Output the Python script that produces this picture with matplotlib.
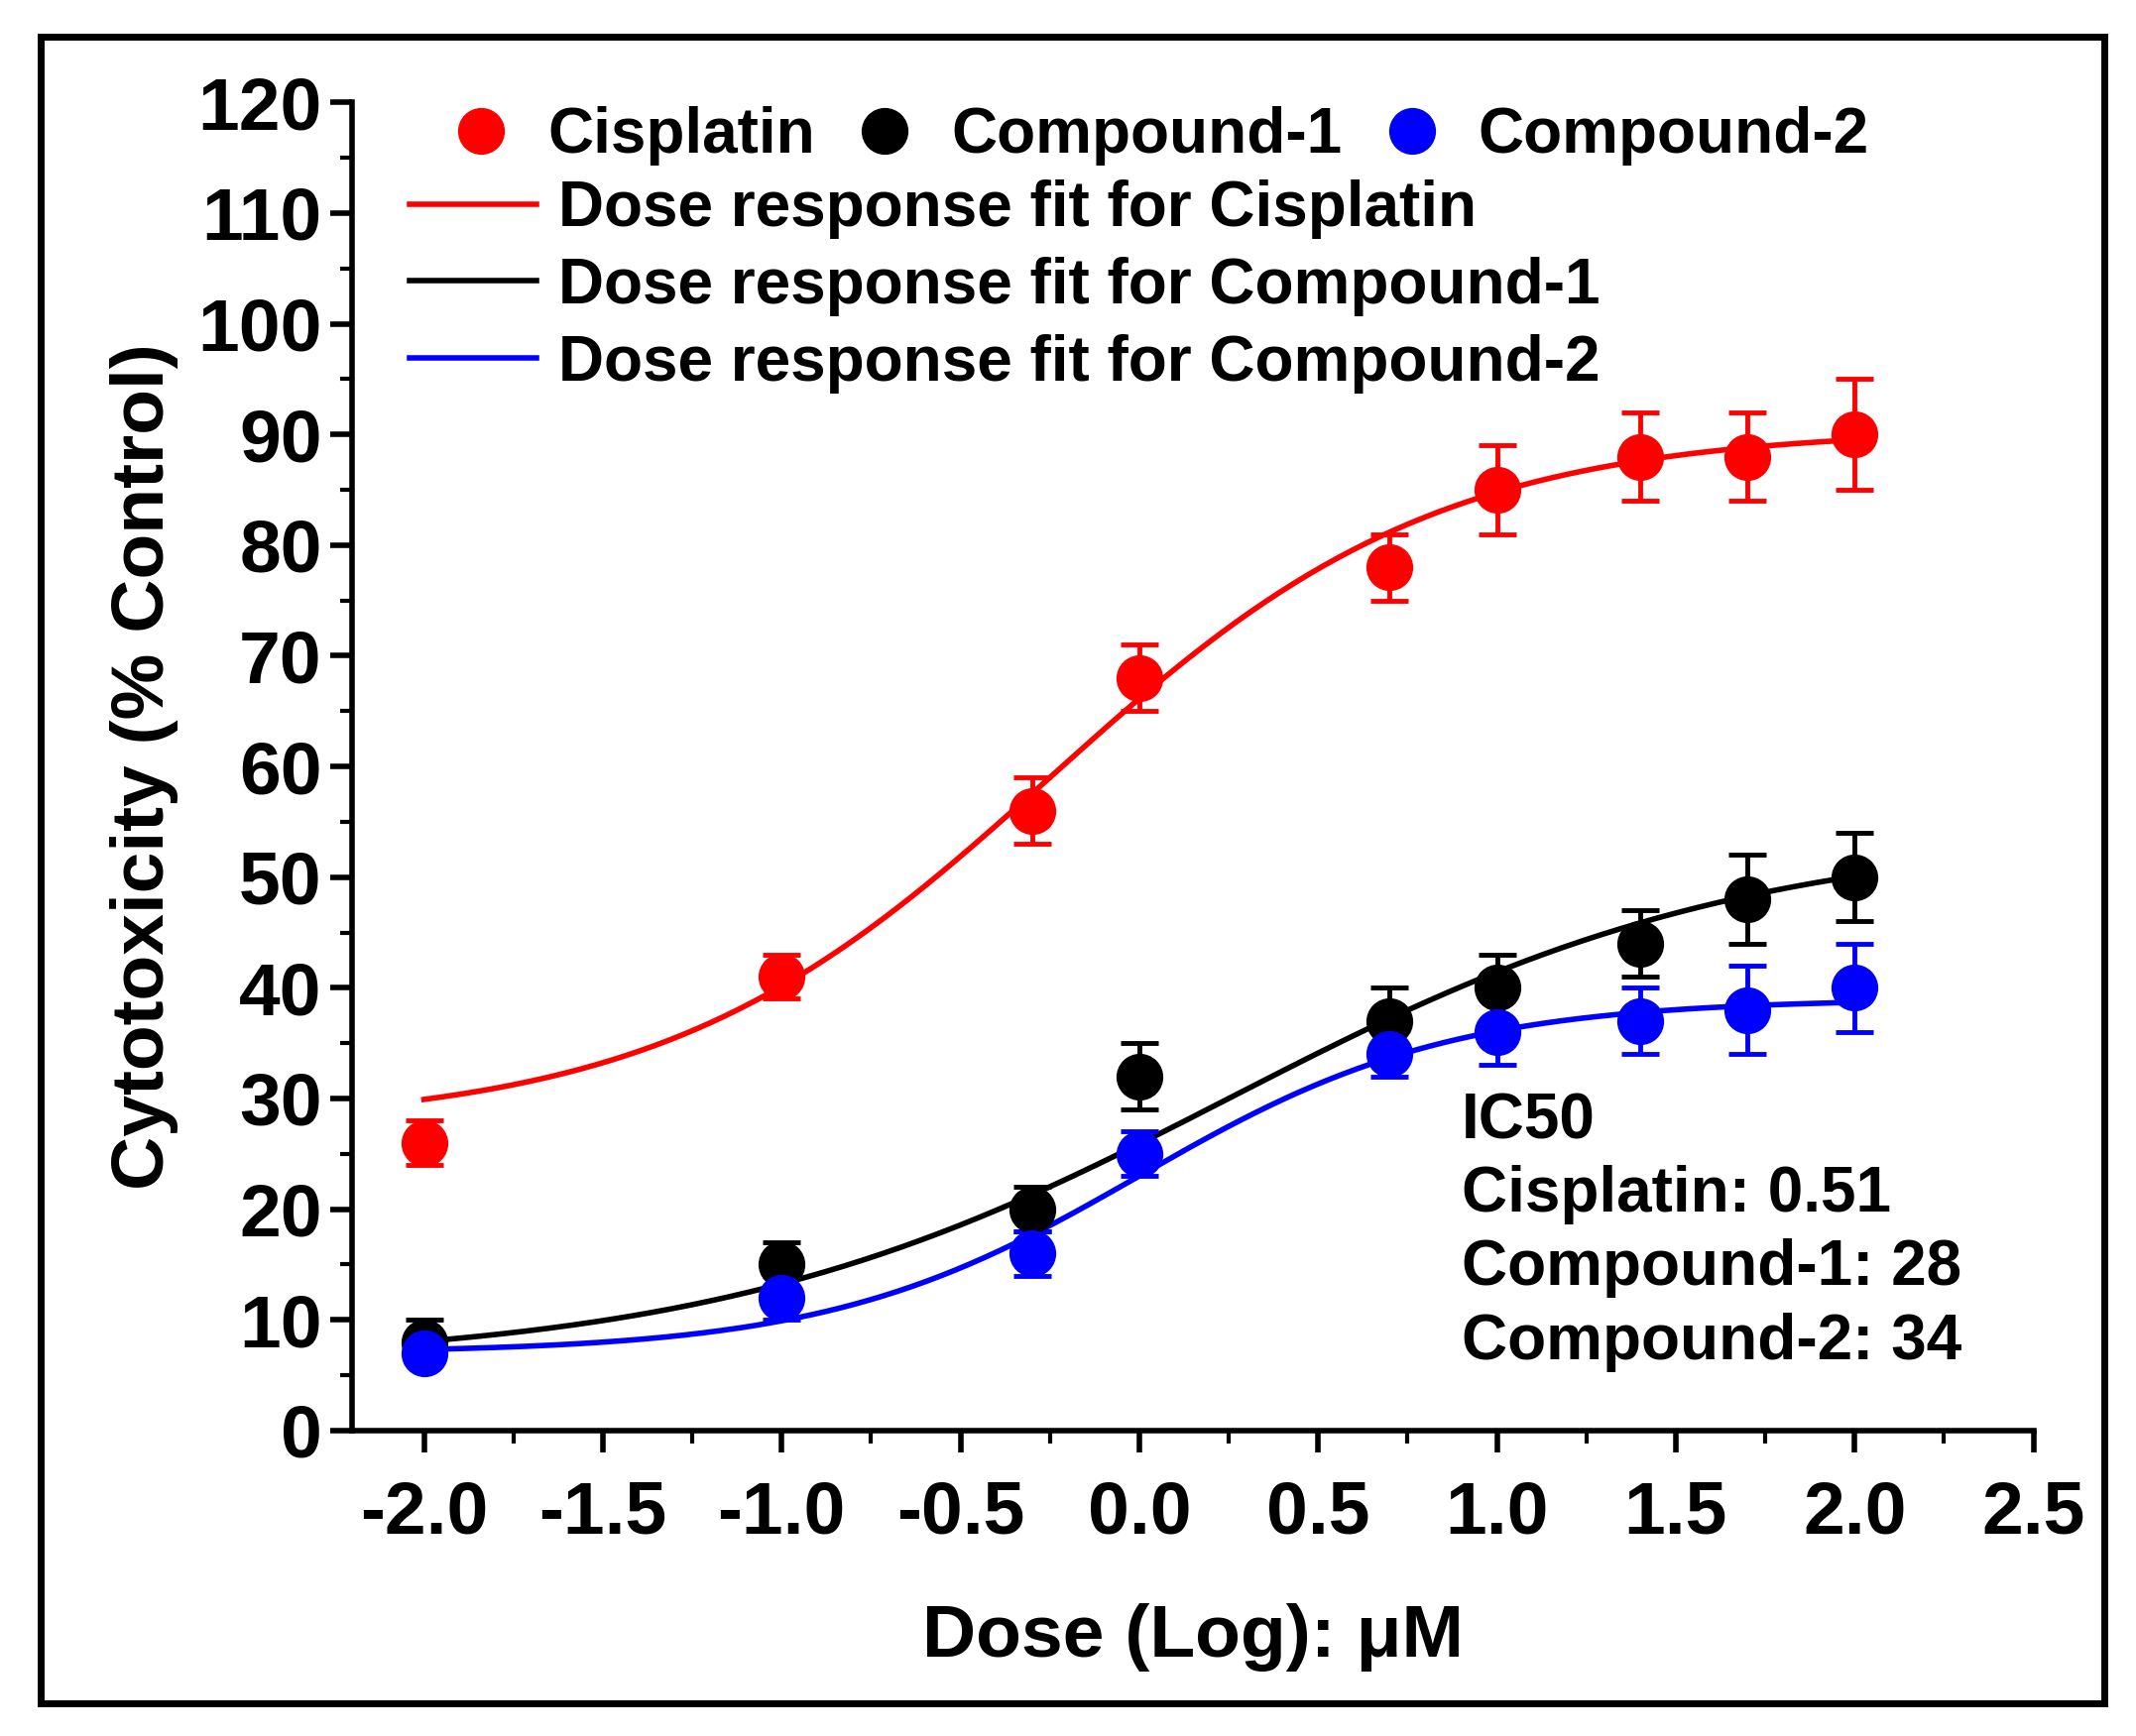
import numpy as np
import matplotlib
matplotlib.use("Agg")
import matplotlib.pyplot as plt
from matplotlib.patches import Rectangle
from matplotlib.lines import Line2D

plt.rcParams['font.family'] = 'Liberation Sans'
plt.rcParams['font.weight'] = 'bold'

dose = [-2.0, -1.0, -0.3, 0.0, 0.7, 1.0, 1.4, 1.7, 2.0]
cis = [26, 41, 56, 68, 78, 85, 88, 88, 90]
cis_err = [2, 2, 3, 3, 3, 4, 4, 4, 5]
c1 = [8, 15, 20, 32, 37, 40, 44, 48, 50]
c1_err = [2, 2, 2, 3, 3, 3, 3, 4, 4]
c2 = [7, 12, 16, 25, 34, 36, 37, 38, 40]
c2_err = [1, 2, 2, 2, 2, 3, 3, 4, 4]
# 4PL fit parameters: bottom, top, logx0, hill
fit_cis = (27.5, 90.5, -0.25, 0.8)
fit_c1 = (6.0, 54.0, 0.25, 0.6)
fit_c2 = (7.0, 39.0, 0.0, 1.0)

def fourpl(x, p):
    b, t, x0, h = p
    return b + (t - b) / (1 + 10 ** ((x0 - x) * h))

fig = plt.figure(figsize=(21.54, 17.51), dpi=100)
fig.patches.append(Rectangle((0.019, 0.019), 0.966, 0.96, transform=fig.transFigure,
                             fill=False, lw=5, color='black'))
ax = fig.add_axes([0.165, 0.176, 0.787, 0.765])
xs = np.linspace(-2, 2, 300)
for y, e, p, col in [(cis, cis_err, fit_cis, 'red'), (c1, c1_err, fit_c1, 'black'), (c2, c2_err, fit_c2, 'blue')]:
    ax.plot(xs, fourpl(xs, p), color=col, lw=4)
    ax.errorbar(dose, y, yerr=e, fmt='o', color=col, ms=33, capsize=14, elinewidth=3.5, capthick=3.5)

ax.set_xlim(-2.2, 2.5)
ax.set_ylim(0, 120)
ax.set_xticks(np.arange(-2, 2.51, 0.5))
ax.set_xticklabels([f"{v:.1f}" for v in np.arange(-2, 2.51, 0.5)])
ax.set_xticks(np.arange(-2, 2.51, 0.25), minor=True)
ax.set_yticks(np.arange(0, 121, 10))
ax.set_yticks(np.arange(0, 121, 5), minor=True)
ax.tick_params(which='major', length=16, width=4, labelsize=54, pad=6)
ax.tick_params(which='minor', length=9, width=3)
ax.tick_params(axis='x', pad=20)
for s in ['top', 'right']:
    ax.spines[s].set_visible(False)
for s in ['left', 'bottom']:
    ax.spines[s].set_linewidth(4)
ax.set_xlabel('Dose (Log): μM', fontsize=54, fontweight='bold', labelpad=40)
ax.set_ylabel('Cytotoxicity (% Control)', fontsize=54, fontweight='bold', labelpad=14)

h1 = [Line2D([], [], ls='', marker='o', ms=33, color=c) for c in ['red', 'black', 'blue']]
leg1 = ax.legend(h1, ['Cisplatin', 'Compound-1', 'Compound-2'], ncol=3, frameon=False,
                 loc='upper left', bbox_to_anchor=(0.02, 1.04), fontsize=46,
                 handletextpad=0.45, columnspacing=0.5, handlelength=1.2)
ax.add_artist(leg1)
h2 = [Line2D([], [], color=c, lw=4) for c in ['red', 'black', 'blue']]
ax.legend(h2, ['Dose response fit for Cisplatin', 'Dose response fit for Compound-1',
               'Dose response fit for Compound-2'], frameon=False, loc='upper left',
          bbox_to_anchor=(0.0, 0.985), fontsize=46, handlelength=2.0,
          handletextpad=0.35, labelspacing=0.28)
ax.text(0.66, 0.255, 'IC50\nCisplatin: 0.51\nCompound-1: 28\nCompound-2: 34',
        transform=ax.transAxes, fontsize=46, va='top', ha='left', linespacing=1.3)
fig.savefig('out.png', dpi=100)
